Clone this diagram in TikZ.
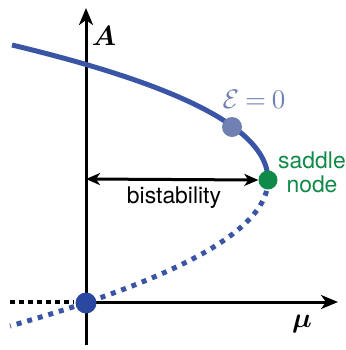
\documentclass[tikz,border=0pt]{standalone}
\usepackage{amsmath,bm,graphicx}
\usepackage{fontspec}
\setsansfont{TeX Gyre Heros}
\usetikzlibrary{arrows.meta}
\definecolor{curveblue}{HTML}{3B55A6}
\definecolor{edot}{HTML}{7080B2}
\definecolor{sgreen}{HTML}{108A48}
\definecolor{odot}{HTML}{2A48A0}
\tikzset{
  axis/.style={line width=3bp,-{Stealth[length=17bp,width=14bp,inset=5bp]}},
  upperbranch/.style={line width=5bp,curveblue},
  lowerbranch/.style={line width=5bp,curveblue,dash pattern=on 5bp off 6bp},
  blackdots/.style={line width=4.5bp,black,dash pattern=on 4.5bp off 4.5bp},
  dotnode/.style={circle,inner sep=0pt,draw=none},
  dbl/.style={line width=3bp,{Stealth[length=14bp,width=12bp,inset=4bp]}-{Stealth[length=14bp,width=12bp,inset=4bp]}},
  sanslabel/.style={font=\sffamily\fontsize{23}{24}\selectfont,inner sep=0pt},
  mathlabel/.style={inner sep=0pt}
}
\begin{document}
\begin{tikzpicture}[x=1bp,y=-1bp]
\useasboundingbox (0,0) rectangle (346,350);
% axes
\coordinate (ybot) at (86,345);
\coordinate (ytop) at (86,8);
\coordinate (xl) at (85,302);
\coordinate (xr) at (338,302);
\draw[axis] (ybot) -- (ytop);
\draw[axis] (xl) -- (xr);
% black dotted trivial branch
\coordinate (bdl) at (10,302);
\coordinate (bdr) at (74,302);
\draw[blackdots] (bdl) -- (bdr);
% branches
\draw[lowerbranch] plot[domain=0:146,samples=80] ({268-1.21*(\x/10)*(\x/10)},{180+\x});
\draw[upperbranch] plot[domain=0:135,samples=80] ({268-1.121*(\x/10)*(\x/10)-0.021*(\x/10)*(\x/10)*(\x/10)},{180-\x});
% points
\node[dotnode,fill=odot,minimum size=21bp] (o) at (86,303) {};
\node[dotnode,fill=sgreen,minimum size=19bp] (sn) at (268,180) {};
\node[dotnode,fill=edot,minimum size=20bp] (e0) at (232,127) {};
% bistability arrow
\coordinate (bl) at (86,179);
\draw[dbl] (bl) -- (sn.west);
% labels
\node[mathlabel] (lA) at (104,36) {\scalebox{2.8}{$\bm{A}$}};
\node[mathlabel] (lmu) at (302,324) {\scalebox{2.8}{$\bm{\mu}$}};
\node[mathlabel,text=edot] (lE) at (254,99) {\scalebox{2.7}{$\mathcal{E}\mkern-1mu=\mkern-1mu0$}};
\node[sanslabel,anchor=base] (lb) at (174,203) {bistability};
\node[sanslabel,text=sgreen,align=center] (lsn) at (312,172) {saddle\\node};
\end{tikzpicture}
\end{document}
